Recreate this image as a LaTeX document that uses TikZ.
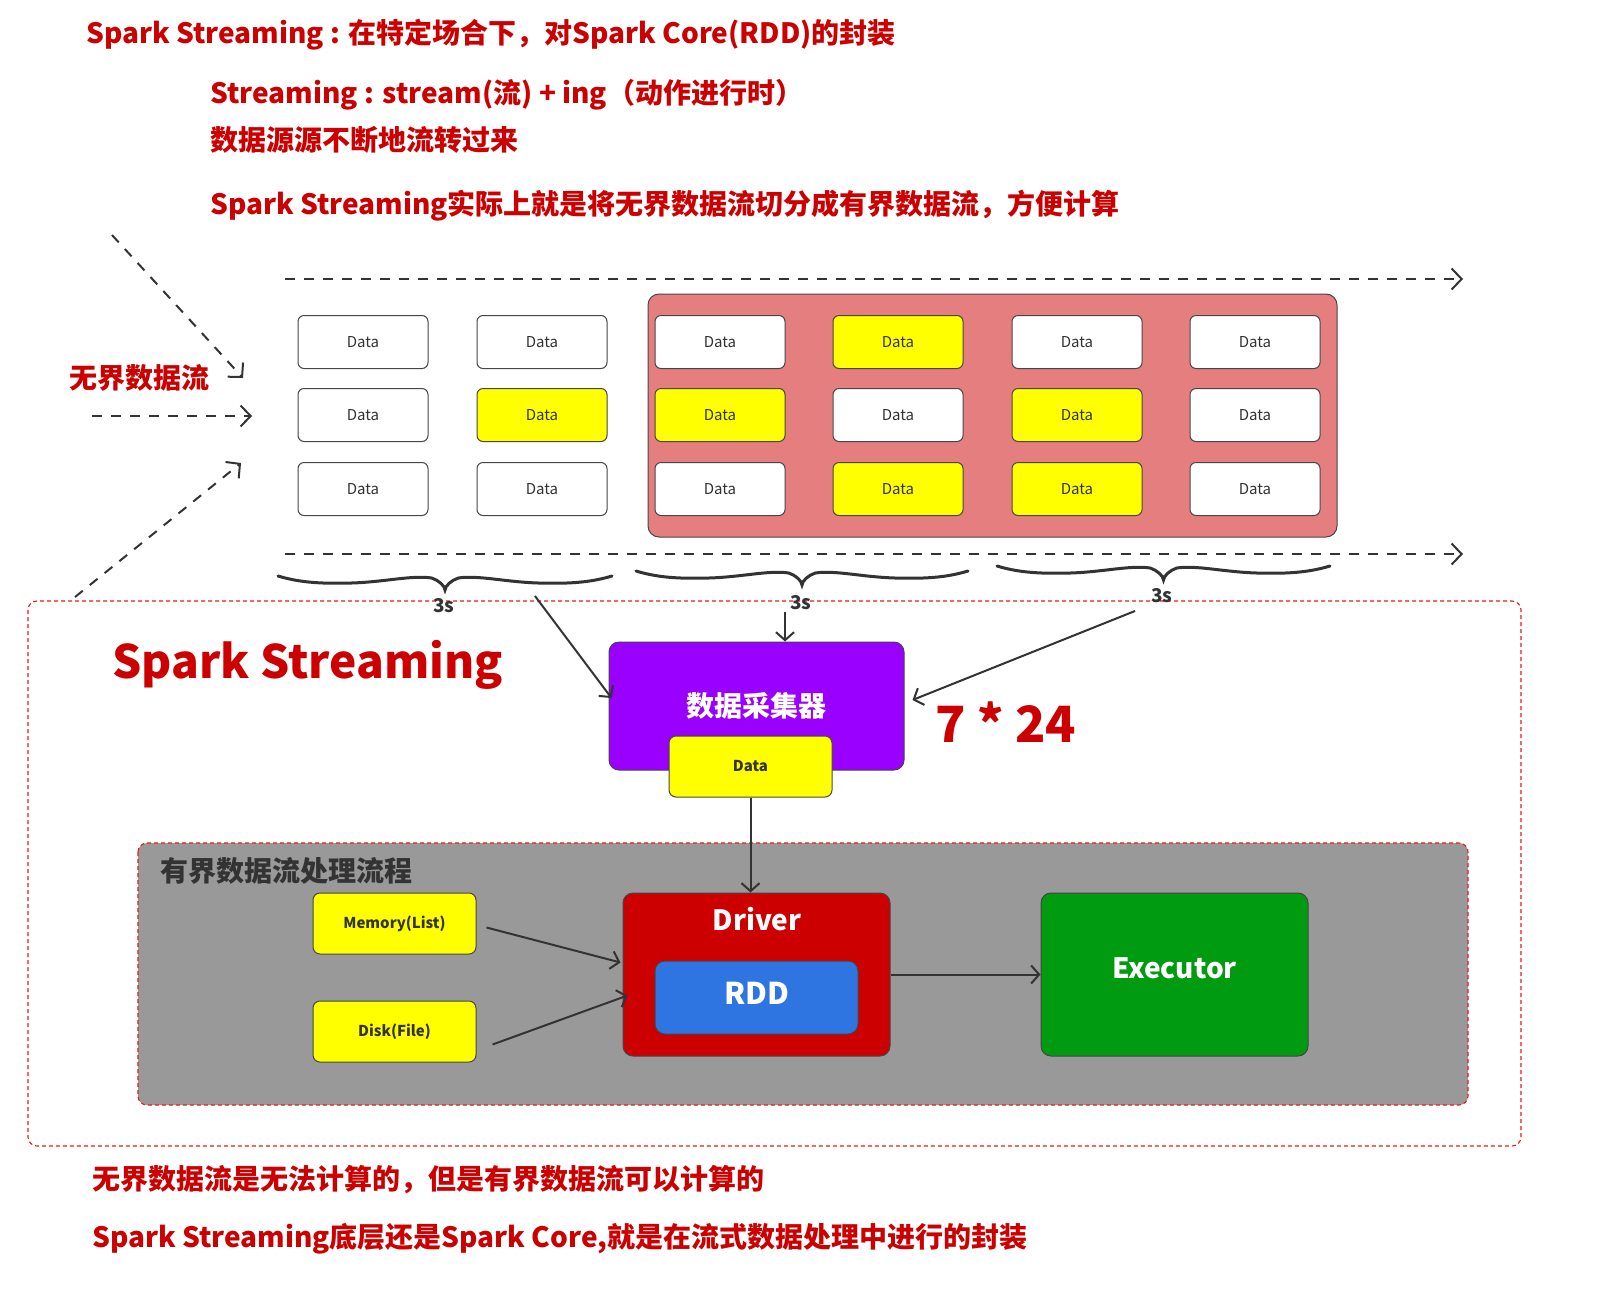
\documentclass[tikz,border=0pt]{standalone}
\usepackage{fontspec}
\setmainfont{Noto Sans CJK SC}
\usepackage{tikz}
\usetikzlibrary{arrows.meta,calc}

\definecolor{sred}{RGB}{204,0,0}
\definecolor{framered}{RGB}{235,25,25}
\definecolor{pinkbg}{RGB}{229,126,126}
\definecolor{purp}{RGB}{153,0,255}
\definecolor{rddblue}{RGB}{46,117,226}
\definecolor{exgreen}{RGB}{0,155,16}
\definecolor{graybg}{RGB}{153,153,153}
\definecolor{yel}{RGB}{255,255,0}
\definecolor{boxline}{RGB}{70,70,70}
\definecolor{txtgray}{RGB}{51,51,51}

\begin{document}
\begin{tikzpicture}[x=1pt, y=-1pt,
    databox/.style={draw=boxline, line width=1pt, rounded corners=6pt, minimum width=130pt, minimum height=53pt, text=txtgray, font=\fontsize{15}{18}\selectfont},
    ybox/.style={draw=boxline, line width=1pt, fill=yel, rounded corners=7pt, minimum width=163pt, minimum height=61pt, text=txtgray, font=\fontsize{15}{18}\selectfont\bfseries},
    bigbox/.style={draw=boxline, line width=1pt, rounded corners=10pt, text=white, inner sep=0pt},
    redtxt/.style={text=sred, font=\fontsize{28}{34}\selectfont\bfseries, anchor=west, inner sep=0pt},
    arr/.style={draw=txtgray, line width=2pt, -{Straight Barb[length=8pt,width=18pt]}},
    darr/.style={draw=txtgray, line width=2pt, dash pattern=on 10pt off 9pt, -{Straight Barb[length=10pt,width=21pt]}},
    frame/.style={draw=framered, line width=1.1pt, dash pattern=on 4pt off 3pt, rounded corners=9pt},
    bracebar/.style={draw=txtgray, line width=3pt, line cap=round}]
\useasboundingbox (0,0) rectangle (1598,1304);

% text at the top
\node[redtxt] (title) at (86,35) {Spark Streaming : 在特定场合下，对Spark Core(RDD)的封装};
\node[redtxt] (word) at (210,95) {Streaming : stream(流) + ing（动作进行时）};
\node[redtxt] (flow) at (210,140) {数据源源不断地流转过来};
\node[redtxt] (cut) at (210,206) {Spark Streaming实际上就是将无界数据流切分成有界数据流，方便计算};

% unbounded stream
\node[redtxt, anchor=center] (unbound) at (139,378) {无界数据流};
\coordinate (in1) at (112,235);
\coordinate (in1e) at (243,378);
\coordinate (in2) at (92,416);
\coordinate (in2e) at (252,416);
\coordinate (in3) at (75,597);
\coordinate (in3e) at (241,463);
\draw[darr] (in1) -- (in1e);
\draw[darr] (in2) -- (in2e);
\draw[darr] (in3) -- (in3e);

\coordinate (top0) at (285,279);
\coordinate (top1) at (1463,279);
\coordinate (bot0) at (285,554);
\coordinate (bot1) at (1463,554);
\draw[darr] (top0) -- (top1);
\draw[darr] (bot0) -- (bot1);

\node[draw=boxline, line width=1pt, fill=pinkbg, rounded corners=11pt, minimum width=689pt, minimum height=243pt] (batch) at (992.5,415.5) {};

\foreach \x/\y/\f [count=\i] in {363/342/white, 542/342/white, 720/342/white, 898/342/yel, 1077/342/white, 1255/342/white,
    363/415/white, 542/415/yel, 720/415/yel, 898/415/white, 1077/415/yel, 1255/415/white,
    363/489/white, 542/489/white, 720/489/white, 898/489/yel, 1077/489/yel, 1255/489/white}
  \node[databox, fill=\f] (d\i) at (\x,\y) {Data};

% braces of 3s
\foreach \a/\b/\y in {278/612/576, 636/968/571, 997/1330/566} {
  \pgfmathsetmacro\w{\b-\a}
  \draw[bracebar] (\a,\y) .. controls ({\a+0.06*\w},{\y+6}) and ({\a+0.12*\w},{\y+8}) .. ({\a+0.22*\w},{\y+7})
    .. controls ({\a+0.32*\w},{\y+6}) and ({\a+0.40*\w},{\y-1}) .. ({\a+0.46*\w},{\y+2})
    .. controls ({\a+0.48*\w},{\y+4}) and ({\a+0.5*\w},{\y+10}) .. ({\a+0.5*\w},{\y+14})
    .. controls ({\a+0.5*\w},{\y+10}) and ({\a+0.52*\w},{\y+4}) .. ({\a+0.54*\w},{\y+2})
    .. controls ({\a+0.60*\w},{\y-1}) and ({\a+0.68*\w},{\y+6}) .. ({\a+0.78*\w},{\y+7})
    .. controls ({\a+0.88*\w},{\y+8}) and ({\a+0.94*\w},{\y+6}) .. (\b,\y);
}

% spark streaming frame
\draw[frame] (28,601) rectangle (1521,1146);
\draw[frame, fill=graybg] (138,843) rectangle (1468,1105);

\node[text=txtgray, font=\fontsize{19}{22}\selectfont\bfseries] (t1) at (444,606) {3s};
\node[text=txtgray, font=\fontsize{19}{22}\selectfont\bfseries] (t2) at (801,603) {3s};
\node[text=txtgray, font=\fontsize{19}{22}\selectfont\bfseries] (t3) at (1162,596) {3s};

\node[text=sred, font=\fontsize{46}{56}\selectfont\bfseries, anchor=west, inner sep=0pt] (ss) at (112,665) {Spark Streaming};
\node[text=sred, font=\fontsize{50}{60}\selectfont\bfseries, anchor=west, inner sep=0pt] (always) at (935,722) {7 * 24};

\node[bigbox, fill=purp, minimum width=295pt, minimum height=128pt, font=\fontsize{28}{34}\selectfont\bfseries] (collector) at (756.5,706) {数据采集器};
\node[ybox] (cdata) at (750.5,766.5) {Data};

\coordinate (a1) at (535,596);
\coordinate (a2) at (785,612);
\coordinate (a3) at (1135,611);
\draw[arr] (a1) -- ($(collector.west)+(3,-8)$);
\draw[arr] (a2) -- (a2 |- collector.north);
\draw[arr] (a3) -- ($(collector.east)+(8,-6)$);

% bounded stream processing
\node[text=txtgray, font=\fontsize{28}{34}\selectfont\bfseries, anchor=west, inner sep=0pt] (bounded) at (160,871) {有界数据流处理流程};
\node[ybox] (mem) at (394.5,923.5) {Memory(List)};
\node[ybox] (disk) at (394.5,1031.5) {Disk(File)};

\node[bigbox, fill=sred, minimum width=267pt, minimum height=163pt] (driver) at (756.5,974.5) {};
\node[text=white, font=\fontsize{28}{34}\selectfont\bfseries] (drivertxt) at (757,919) {Driver};
\node[bigbox, fill=rddblue, minimum width=203pt, minimum height=73pt, font=\fontsize{30}{36}\selectfont\bfseries, text depth=8pt] (rdd) at (756.5,997.5) {RDD};
\node[bigbox, fill=exgreen, minimum width=267pt, minimum height=163pt, font=\fontsize{28}{34}\selectfont\bfseries, text depth=12pt] (executor) at (1174.5,974.5) {Executor};

\draw[arr] (cdata.south) -- (cdata.south |- driver.north);
\draw[arr] ($(mem.east)+(10,4)$) -- ($(driver.west)+(-2,-12)$);
\draw[arr] ($(disk.east)+(16,13)$) -- ($(driver.west)+(5,21)$);
\draw[arr] (driver.east) -- (executor.west);

% text at the bottom
\node[redtxt] (nocalc) at (92,1180) {无界数据流是无法计算的，但是有界数据流可以计算的};
\node[redtxt] (core) at (92,1239) {Spark Streaming底层还是Spark Core,就是在流式数据处理中进行的封装};
\end{tikzpicture}
\end{document}
